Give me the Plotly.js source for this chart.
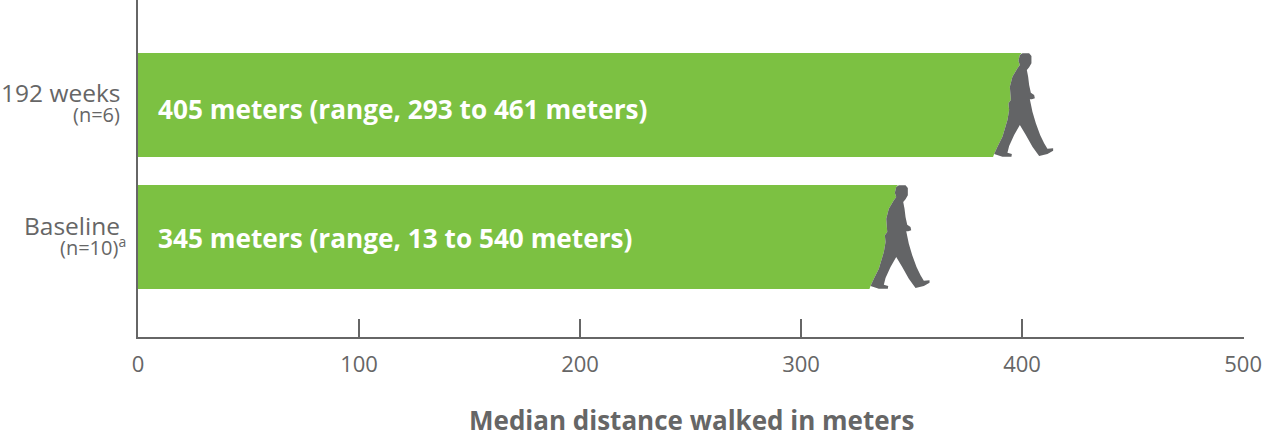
<!DOCTYPE html>
<html><head><meta charset="utf-8">
<script src="https://cdn.plot.ly/plotly-3.0.1.min.js"></script>
<style>html,body{margin:0;padding:0;background:#fff}</style></head>
<body><div id="chart" style="width:1262px;height:430px"></div>
<script>
const categories = ['Baseline', '192 weeks'];
const subLabels = ['(n=10)<sup>a</sup>', '(n=6)'];
const medians = [345, 405];
const barTexts = ['345 meters (range, 13 to 540 meters)', '405 meters (range, 293 to 461 meters)'];
const xTicks = [0, 100, 200, 300, 400, 500];
const axisTitle = 'Median distance walked in meters';
const walkerShift = [-45, -54];
const mainShift = [11, 12], subShift = [-10, -10], textShift = [-1, -4];

const GREEN = '#7CC142', GREY = '#636466', TXT = '#666666', FONT = '"Open Sans", sans-serif';
const walker = [[122,45],[130,40],[150,40],[157,48],[157,70],[150,82],[143,90],[147,110],[150,135],[155,158],[165,165],[167,175],[158,178],[152,178],[160,215],[170,250],[183,285],[195,310],[205,326],[222,325],[222,332],[205,342],[180,348],[174,340],[160,320],[140,285],[122,255],[105,285],[90,318],[85,338],[98,342],[97,350],[70,350],[45,342],[55,320],[70,290],[85,240],[90,210],[88,190],[95,180],[92,140],[100,110],[115,85],[122,75],[118,62]];
const mask = [[130,36],[122,45],[118,62],[122,75],[115,85],[100,110],[92,140],[95,180],[88,190],[90,210],[85,240],[70,290],[55,320],[45,342],[40,356],[250,356],[250,36]];
const toPath = (pts, dx) => 'M' + pts.map(p => (dx + p[0]/3).toFixed(1) + ',' + (65 - p[1]/3).toFixed(1)).join('L') + 'Z';

const shapes = [];
categories.forEach((c, i) => {
  const base = {type:'path', xref:'x', yref:'y', xsizemode:'pixel', ysizemode:'pixel', xanchor:medians[i], yanchor:c, layer:'above'};
  shapes.push({...base, path:toPath(mask, walkerShift[i]), fillcolor:'#ffffff', line:{width:0}});
  shapes.push({...base, path:toPath(walker, walkerShift[i]), fillcolor:GREY, line:{width:0}});
});

const annotations = [];
categories.forEach((c, i) => {
  annotations.push({xref:'paper', yref:'y', x:0, y:c, xshift:-16, yshift:mainShift[i], xanchor:'right', yanchor:'middle', showarrow:false, text:c, font:{family:FONT, size:24.5, color:TXT}});
  annotations.push({xref:'paper', yref:'y', x:0, y:c, xshift:i===0?-10:-16, yshift:subShift[i], xanchor:'right', yanchor:'middle', showarrow:false, text:subLabels[i], font:{family:FONT, size:20, color:TXT}});
  annotations.push({xref:'x', yref:'y', x:0, y:c, xshift:18, yshift:textShift[i], xanchor:'left', yanchor:'middle', showarrow:false, text:'<b>'+barTexts[i]+'</b>', font:{family:FONT, size:26.2, color:'#ffffff'}});
});
annotations.push({xref:'paper', yref:'paper', x:0.5, y:0, yshift:-83, xanchor:'center', yanchor:'middle', showarrow:false, text:'<b>'+axisTitle+'</b>', font:{family:FONT, size:26, color:TXT}});

Plotly.newPlot('chart', [{
  type:'bar', orientation:'h', y:categories, x:medians, marker:{color:GREEN, line:{width:0}}, hoverinfo:'skip'
}], {
  width:1262, height:430, margin:{l:137.5, r:17.5, t:0, b:93}, paper_bgcolor:'#fff', plot_bgcolor:'#fff',
  showlegend:false, bargap:0.212, shapes, annotations,
  xaxis:{range:[0,500.4], tickvals:xTicks, ticks:'inside', ticklen:18, tickwidth:2, tickcolor:TXT, showgrid:false, zeroline:false, showline:true, linecolor:TXT, linewidth:2, ticklabelstandoff:7,
    tickfont:{family:FONT, size:22, color:TXT}},
  yaxis:{type:'category', categoryorder:'array', categoryarray:categories, range:[-0.7576,1.795], showticklabels:false, ticks:'', showgrid:false, zeroline:false, showline:true, linecolor:TXT, linewidth:2}
}, {displayModeBar:false, staticPlot:true});
</script></body></html>
